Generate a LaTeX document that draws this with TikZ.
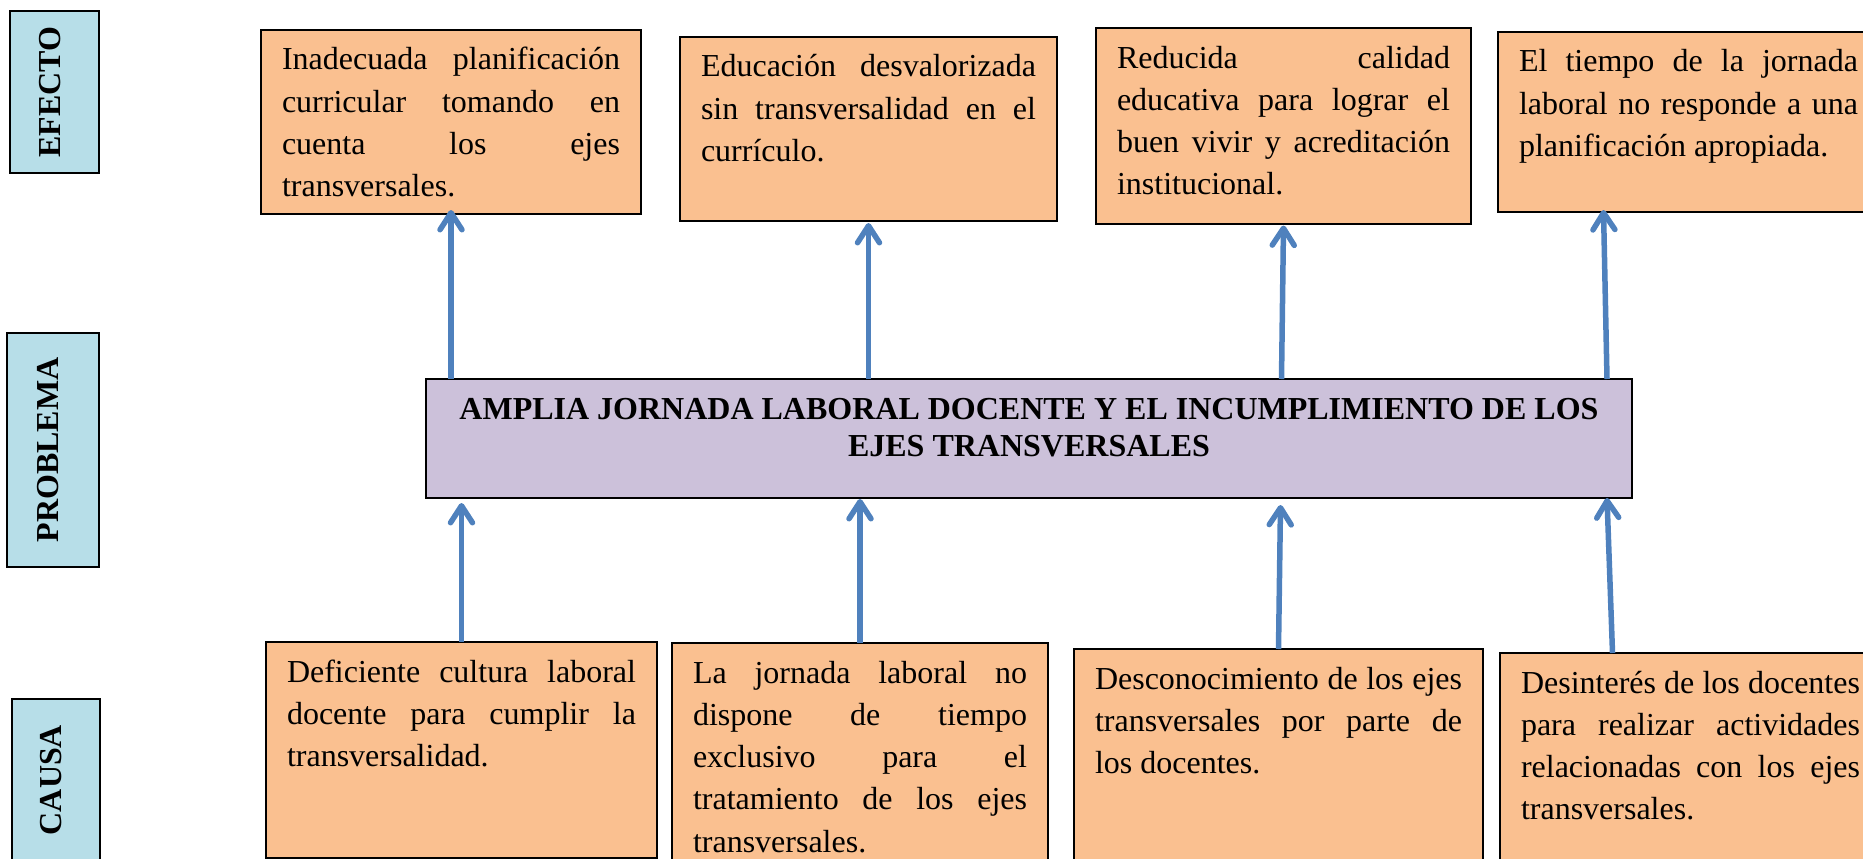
\documentclass[tikz,border=0pt]{standalone}
\usepackage{fontspec}
\setmainfont{Liberation Serif}
\usetikzlibrary{arrows.meta,calc}
\definecolor{lblue}{HTML}{B7DEE8}
\definecolor{orng}{HTML}{FAC090}
\definecolor{lav}{HTML}{CCC1DA}
\definecolor{arrblue}{HTML}{4F81BD}
\newcommand\tb[3]{\parbox[t][#2][t]{#1}{\fontsize{32}{42.3}\selectfont\rule{0pt}{26pt}#3}}
\newcommand\J[1]{\makebox[\linewidth][s]{#1}\\}
\tikzset{
  ebox/.style={draw=black, line width=2pt, fill=orng, anchor=north west,
    inner xsep=21pt, inner ysep=14pt, outer sep=0pt},
  lbl/.style={draw=black, line width=2pt, fill=lblue, rotate=90, inner sep=0pt,
    outer sep=0pt, font=\fontsize{32}{37}\selectfont\bfseries},
  pbox/.style={draw=black, line width=2pt, fill=lav, anchor=north west,
    inner sep=0pt, outer sep=0pt},
  arr/.style={draw=arrblue, line width=5.5pt, -{Straight Barb[length=17pt,width=22pt,round]}}
}
\begin{document}
\begin{tikzpicture}[x=1pt,y=-1pt]
\useasboundingbox (0,0) rectangle (1863,859);
\clip (0,0) rectangle (1863,859);
% side labels
\node[lbl, minimum width=162pt, minimum height=89pt] (lef) at (54.5,92) {\rule[-10pt]{0pt}{1pt}EFECTO};
\node[lbl, minimum width=234pt, minimum height=92pt] (lpr) at (53,450) {\rule[-10pt]{0pt}{1pt}PROBLEMA};
\node[lbl, minimum width=162pt, minimum height=88.5pt] (lca) at (56,780) {\rule[-10pt]{0pt}{1pt}CAUSA};
% effects
\node[ebox] (e1) at (261,30) {\tb{338pt}{156pt}{\J{Inadecuada planificación}\J{curricular tomando en}\J{cuenta los ejes}transversales.}};
\node[ebox] (e2) at (680,37) {\tb{335pt}{156pt}{\J{Educación desvalorizada}\J{sin transversalidad en el}currículo.}};
\node[ebox] (e3) at (1096,28) {\tb{333pt}{168pt}{\J{Reducida calidad}\J{educativa para lograr el}\J{buen vivir y acreditación}institucional.}};
\node[ebox] (e4) at (1498,32) {\tb{339pt}{152pt}{\J{El tiempo de la jornada}\J{laboral no responde a una}planificación apropiada.}};
% problem
\node[pbox] (prob) at (426,379) {\parbox[t][119pt][t]{1206pt}{\centering\bfseries\fontsize{32}{37}\selectfont\rule{0pt}{40pt}AMPLIA JORNADA LABORAL DOCENTE Y EL INCUMPLIMIENTO DE LOS\\EJES TRANSVERSALES}};
% causes
\node[ebox] (c1) at (266,642) {\tb{349pt}{188pt}{\J{Deficiente cultura laboral}\J{docente para cumplir la}transversalidad.}};
\node[ebox] (c2) at (672,643) {\tb{334pt}{212pt}{\J{La jornada laboral no}\J{dispone de tiempo}\J{exclusivo para el}\J{tratamiento de los ejes}transversales.}};
\node[ebox] (c3) at (1074,649) {\tb{367pt}{212pt}{\J{Desconocimiento de los ejes}\J{transversales por parte de}los docentes.}};
\node[ebox] (c4) at (1500,653) {\tb{339pt}{212pt}{\J{Desinterés de los docentes}\J{para realizar actividades}\J{relacionadas con los ejes}transversales.}};
% arrows problem -> effects
\draw[arr] (e1.south |- prob.north) -- ($(e1.south)+(0,-4)$);
\draw[arr] (e2.south |- prob.north) -- ($(e2.south)+(0,2)$);
\draw[arr] ($(e3.south |- prob.north)+(-2,0)$) -- ($(e3.south)+(0,1.5)$);
\draw[arr] ($(prob.north east)+(-25,0)$) -- ($(e4.south)+(-85,-2)$);
% arrows causes -> problem
\draw[arr] (c1.north) -- ($(c1.north |- prob.south)+(0,5)$);
\draw[arr] (c2.north) -- ($(c2.north |- prob.south)+(0,1)$);
\draw[arr] (c3.north) -- ($(c3.north |- prob.south)+(2,7)$);
\draw[arr] ($(c4.north)+(-78,0)$) -- ($(prob.south east)+(-25,0)$);
\end{tikzpicture}
\end{document}
